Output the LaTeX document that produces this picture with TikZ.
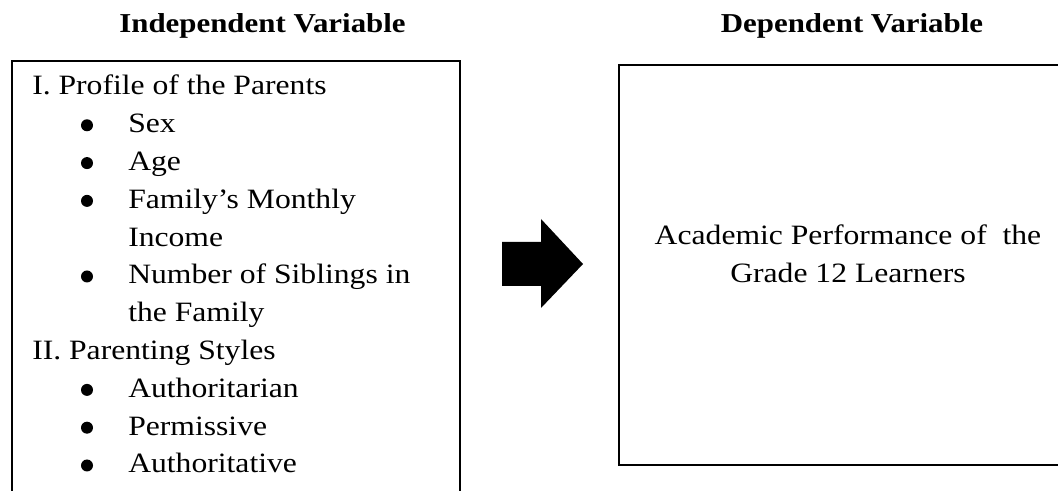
\documentclass[tikz,border=0pt]{standalone}
\usepackage{fontspec}
\setmainfont[FakeStretch=1.13]{Liberation Serif}
\begin{document}
\begin{tikzpicture}[x=0.75pt,y=-0.75pt,
  head/.style={font=\fontsize{20.5pt}{24pt}\selectfont\bfseries, anchor=base, inner sep=0pt},
  txt/.style={font=\fontsize{21pt}{24pt}\selectfont, anchor=base west, inner sep=0pt},
  bul/.style={circle, fill=black, inner sep=0pt, minimum size=9pt},
  ctxt/.style={font=\fontsize{21pt}{24pt}\selectfont, anchor=base, inner sep=0pt},
  boxline/.style={draw=black, line width=1.4pt}]
\useasboundingbox (0,0) rectangle (1058,491);
\clip (0,0) rectangle (1058,491);
% headings
\node[head] (hind) at (262.5,33) {Independent Variable};
\node[head] (hdep) at (852,33) {Dependent Variable};
% boxes
\coordinate (lbA) at (12,61);
\coordinate (lbB) at (460,540);
\draw[boxline] (lbA) rectangle (lbB);
\coordinate (rbA) at (619,65);
\coordinate (rbB) at (1090,465);
\draw[boxline] (rbA) rectangle (rbB);
% left list
\node[txt] (t1) at (32,95) {I. Profile of the Parents};
\node[bul] (b1) at (87,125.3) {};
\node[txt] (i1) at (128,132.8) {Sex};
\node[bul] (b2) at (87,163.1) {};
\node[txt] (i2) at (128,170.6) {Age};
\node[bul] (b3) at (87,200.9) {};
\node[txt] (i3) at (128,208.4) {Family’s Monthly};
\node[txt] (i3b) at (128,246.2) {Income};
\node[bul] (b4) at (87,276.5) {};
\node[txt] (i4) at (128,284) {Number of Siblings in};
\node[txt] (i4b) at (128,321.8) {the Family};
\node[txt] (t2) at (32,359.6) {II. Parenting Styles};
\node[bul] (b5) at (87,389.9) {};
\node[txt] (i5) at (128,397.4) {Authoritarian};
\node[bul] (b6) at (87,427.7) {};
\node[txt] (i6) at (128,435.2) {Permissive};
\node[bul] (b7) at (87,465.5) {};
\node[txt] (i7) at (128,473) {Authoritative};
% right text
\node[ctxt] (r1) at (848,245) {Academic Performance of \ the};
\node[ctxt] (r2) at (848,283) {Grade 12 Learners};
% block arrow
\fill[black] (502,242) -- (541,242) -- (541,219) -- (583,264) -- (541,308) -- (541,286) -- (502,286) -- cycle;
\end{tikzpicture}
\end{document}
